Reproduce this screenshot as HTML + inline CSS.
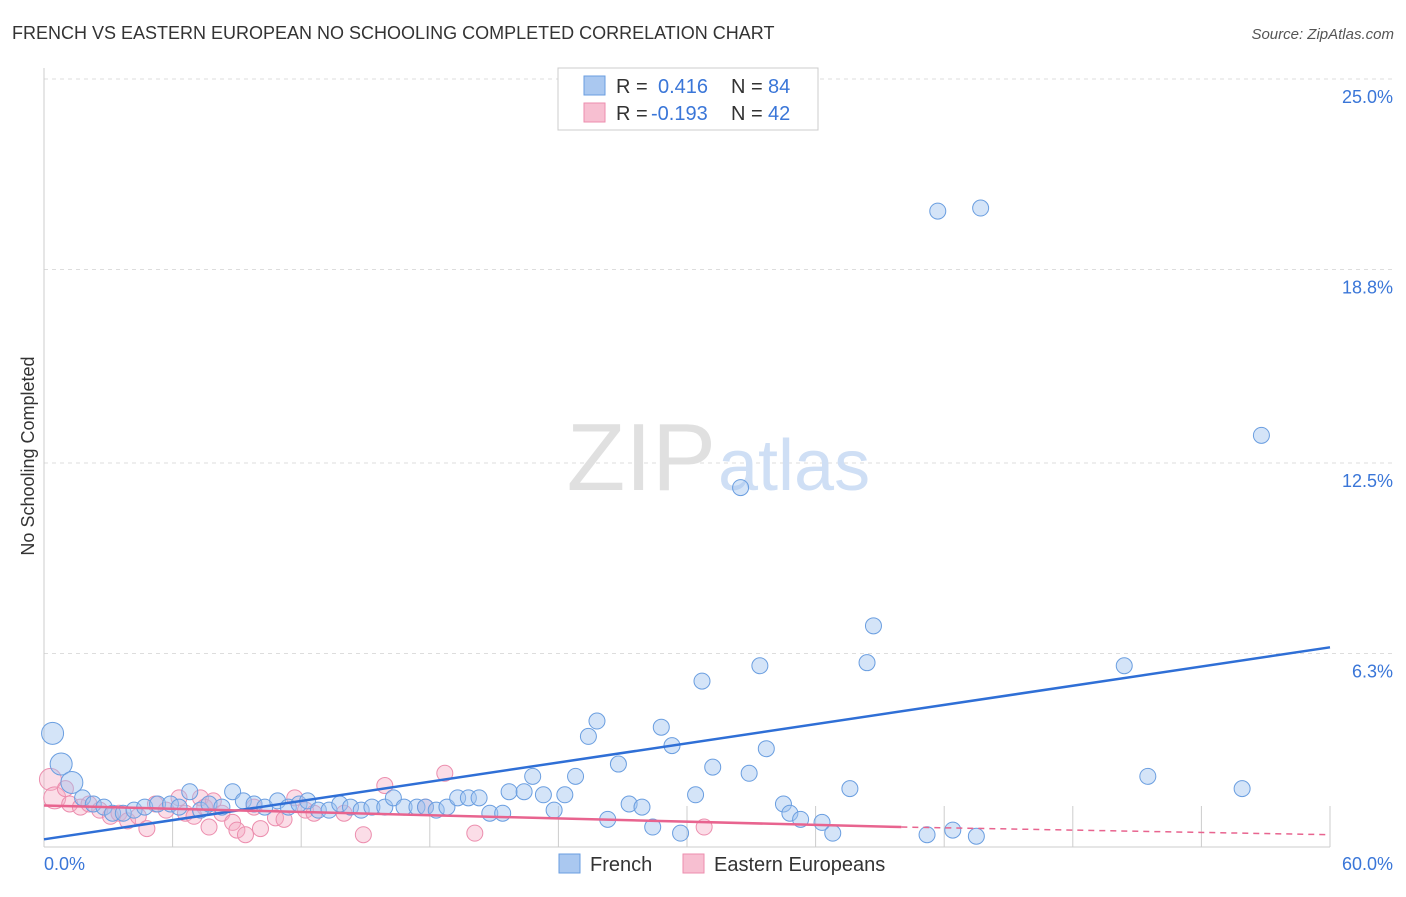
<!DOCTYPE html>
<html><head><meta charset="utf-8"><style>
body{margin:0;background:#fff;font-family:"Liberation Sans",sans-serif;}
svg text{font-family:"Liberation Sans",sans-serif;}
</style></head><body>
<svg id="chart" width="1406" height="892" xmlns="http://www.w3.org/2000/svg">
<text x="12" y="39" font-size="18" fill="#333">FRENCH VS EASTERN EUROPEAN NO SCHOOLING COMPLETED CORRELATION CHART</text>
<text x="1394" y="39" font-size="15" fill="#555" text-anchor="end" font-style="italic">Source: ZipAtlas.com</text>
<text transform="translate(34,456) rotate(-90)" font-size="18" fill="#333" text-anchor="middle">No Schooling Completed</text>
<g id="grid"></g>
<g id="wm"><text x="716" y="490" font-size="96" fill="#e0e0e0" text-anchor="end" font-family="Liberation Serif">ZIP</text><text x="718" y="490" font-size="72" fill="#cfdff5">atlas</text></g>
<g id="pts"></g>
<g id="lines"></g>
<g>
<rect x="558" y="68" width="260" height="62" fill="#fff" stroke="#ccc"/>
<rect x="584" y="76" width="21" height="19" fill="#aac8f0" stroke="#6a9ee0"/>
<text x="616" y="93" font-size="20" fill="#333">R =</text>
<text x="658" y="93" font-size="20" fill="#3a76d8">0.416</text>
<text x="731" y="93" font-size="20" fill="#333">N =</text>
<text x="768" y="93" font-size="20" fill="#3a76d8">84</text>
<rect x="584" y="103" width="21" height="19" fill="#f7bfd1" stroke="#ec8eae"/>
<text x="616" y="120" font-size="20" fill="#333">R =</text>
<text x="651" y="120" font-size="20" fill="#3a76d8">-0.193</text>
<text x="731" y="120" font-size="20" fill="#333">N =</text>
<text x="768" y="120" font-size="20" fill="#3a76d8">42</text>
</g>
<g>
<rect x="559" y="854" width="21" height="19" fill="#aac8f0" stroke="#6a9ee0"/>
<text x="590" y="871" font-size="20" fill="#333">French</text>
<rect x="683" y="854" width="21" height="19" fill="#f7bfd1" stroke="#ec8eae"/>
<text x="714" y="871" font-size="20" fill="#333">Eastern Europeans</text>
</g>
</svg>
<script>
const yTicks=[25.0,18.8,12.5,6.3];
const yTickLabels=["25.0%","18.8%","12.5%","6.3%"];
const xTickLabels=["0.0%","60.0%"];
const frenchX=[0.4,0.8,1.3,1.8,2.3,2.8,3.2,3.7,4.2,4.7,5.3,5.9,6.3,6.8,7.3,7.7,8.3,8.8,9.3,9.8,10.3,10.9,11.4,11.9,12.3,12.8,13.3,13.8,14.3,14.8,15.3,15.9,16.3,16.8,17.4,17.8,18.3,18.8,19.3,19.8,20.3,20.8,21.4,21.7,22.4,22.8,23.3,23.8,24.3,24.8,25.4,25.8,26.3,26.8,27.3,27.9,28.4,28.8,29.3,29.7,30.4,30.7,31.2,32.5,32.9,33.4,33.7,34.5,34.8,35.3,36.3,36.8,37.6,38.4,38.7,41.2,41.7,42.4,43.5,43.7,50.4,51.5,55.9,56.8];
const frenchY=[3.7,2.7,2.1,1.6,1.4,1.3,1.1,1.1,1.2,1.3,1.4,1.4,1.3,1.8,1.2,1.4,1.3,1.8,1.5,1.4,1.3,1.5,1.3,1.4,1.5,1.2,1.2,1.4,1.3,1.2,1.3,1.3,1.6,1.3,1.3,1.3,1.2,1.3,1.6,1.6,1.6,1.1,1.1,1.8,1.8,2.3,1.7,1.2,1.7,2.3,3.6,4.1,0.9,2.7,1.4,1.3,0.65,3.9,3.3,0.45,1.7,5.4,2.6,11.7,2.4,5.9,3.2,1.4,1.1,0.9,0.8,0.45,1.9,6.0,7.2,0.4,20.7,0.55,0.35,20.8,5.9,2.3,1.9,13.4];
const eastX=[0.3,0.5,1.0,1.2,1.7,2.1,2.6,3.1,3.5,3.9,4.4,4.8,5.2,5.7,6.3,6.6,7.0,7.3,7.5,7.7,7.9,8.3,8.8,9.0,9.4,9.8,10.1,10.8,11.2,11.7,12.2,12.6,14.0,14.9,15.9,17.8,18.7,20.1,30.8];
const eastY=[2.2,1.6,1.9,1.4,1.3,1.4,1.2,1.0,1.1,0.85,1.0,0.6,1.4,1.2,1.6,1.1,1.0,1.6,1.3,0.65,1.5,1.1,0.8,0.55,0.4,1.3,0.6,0.95,0.9,1.6,1.2,1.1,1.1,0.4,2.0,1.3,2.4,0.45,0.65];
const blueLine=[0.25,6.5];
const pinkLine=[1.35,0.65,0.4];
const NS="http://www.w3.org/2000/svg";
const X=v=>44+v*(1286/60), Y=v=>847-v*30.72;
function mk(t,a,p){const e=document.createElementNS(NS,t);for(const k in a)e.setAttribute(k,a[k]);p.appendChild(e);return e;}
const grid=document.getElementById('grid');
yTicks.forEach((t,i)=>{
 const l=mk('line',{x1:44,x2:1392,y1:Y(t),y2:Y(t),stroke:'#ddd','stroke-dasharray':'4,4'},grid);
 
 
 const tx=mk('text',{x:1393,y:Y(t)+24,'font-size':18,fill:'#3a76d8','text-anchor':'end'},grid);tx.textContent=yTickLabels[i];
 
 
});
mk('line',{x1:44,x2:44,y1:68,y2:847,stroke:'#ccc'},grid);
mk('line',{x1:44,x2:1330,y1:847,y2:847,stroke:'#ccc'},grid);
for(let i=0;i<=10;i++){mk('line',{x1:44+i*128.6,x2:44+i*128.6,y1:806,y2:847,stroke:'#ccc'},grid);}
const xl=mk('text',{x:44,y:870,'font-size':18,fill:'#3a76d8'},grid);xl.textContent=xTickLabels[0];


const xr=mk('text',{x:1393,y:870,'font-size':18,fill:'#3a76d8','text-anchor':'end'},grid);xr.textContent=xTickLabels[1];


const pts=document.getElementById('pts');
eastX.forEach((x,i)=>{const c=mk('circle',{cx:X(x),cy:Y(eastY[i]),r:i<2?11:8,fill:'rgba(245,170,195,0.4)',stroke:'#ec8eae','stroke-width':1},pts);
 
 });
frenchX.forEach((x,i)=>{const c=mk('circle',{cx:X(x),cy:Y(frenchY[i]),r:i<3?11:8,fill:'rgba(160,195,240,0.45)',stroke:'#6a9ee0','stroke-width':1},pts);
 
 });
const lines=document.getElementById('lines');
const b=mk('line',{x1:X(0),y1:Y(blueLine[0]),x2:X(60),y2:Y(blueLine[1]),stroke:'#2f6fd6','stroke-width':2.5},lines);


const p=mk('line',{x1:X(0),y1:Y(pinkLine[0]),x2:X(40),y2:Y(pinkLine[1]),stroke:'#e8648f','stroke-width':2.5},lines);


const pd=mk('line',{x1:X(40),y1:Y(pinkLine[1]),x2:X(60),y2:Y(pinkLine[2]),stroke:'#e8648f','stroke-width':1.5,'stroke-dasharray':'6,5'},lines);


</script>
</body></html>
